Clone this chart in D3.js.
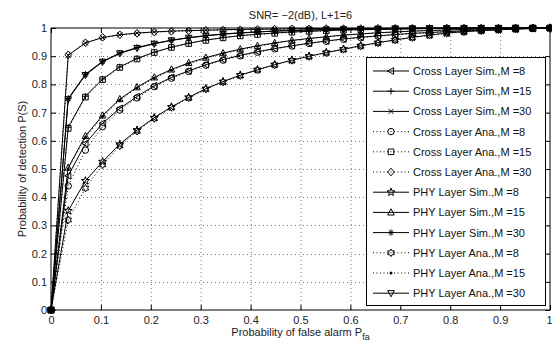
<!DOCTYPE html>
<html>
<head>
<meta charset="utf-8">
<script src="https://cdn.jsdelivr.net/npm/d3@7"></script>
<style>
  body { margin: 0; background: #fff; }
  text { font-family: "Liberation Sans", Arial, sans-serif; }
</style>
</head>
<body>
<div id="chart"></div>
<script>
"use strict";

// x values (Pfa grid)
const pfa = [0, 0.0345, 0.069, 0.1034, 0.1379, 0.1724, 0.2069, 0.2414, 0.2759, 0.3103,
  0.3448, 0.3793, 0.4138, 0.4483, 0.4828, 0.5172, 0.5517, 0.5862, 0.6207, 0.6552,
  0.6897, 0.7241, 0.7586, 0.7931, 0.8276, 0.8621, 0.8966, 0.931, 0.9655, 1];

const crossSim8 = [0, 0.476, 0.59, 0.662, 0.715, 0.757, 0.795, 0.825, 0.848, 0.87, 0.888, 0.903, 0.916, 0.927, 0.937, 0.946, 0.954, 0.961, 0.967, 0.972, 0.977, 0.981, 0.984, 0.987, 0.99, 0.992, 0.994, 0.996, 0.998, 1];
const crossSim15 = [0, 0.648, 0.758, 0.819, 0.862, 0.892, 0.914, 0.932, 0.946, 0.957, 0.966, 0.973, 0.978, 0.982, 0.986, 0.988, 0.991, 0.993, 0.994, 0.995, 0.996, 0.997, 0.998, 0.998, 0.999, 0.999, 1, 1, 1, 1];
const crossSim30 = [0, 0.903, 0.947, 0.966, 0.976, 0.982, 0.986, 0.989, 0.991, 0.992, 0.994, 0.995, 0.996, 0.996, 0.997, 0.998, 0.998, 0.998, 0.999, 0.999, 0.999, 1, 1, 1, 1, 1, 1, 1, 1, 1];
const crossAna8 = [0, 0.44, 0.567, 0.65, 0.709, 0.752, 0.792, 0.822, 0.846, 0.868, 0.886, 0.901, 0.914, 0.926, 0.936, 0.945, 0.953, 0.96, 0.966, 0.971, 0.976, 0.98, 0.984, 0.987, 0.99, 0.992, 0.994, 0.996, 0.998, 1];
const crossAna15 = [0, 0.644, 0.755, 0.817, 0.86, 0.89, 0.913, 0.931, 0.945, 0.956, 0.965, 0.972, 0.977, 0.981, 0.985, 0.988, 0.99, 0.992, 0.994, 0.995, 0.996, 0.997, 0.998, 0.998, 0.999, 0.999, 0.999, 1, 1, 1];
const crossAna30 = [0, 0.905, 0.948, 0.967, 0.976, 0.981, 0.985, 0.988, 0.99, 0.992, 0.993, 0.994, 0.995, 0.996, 0.997, 0.997, 0.998, 0.998, 0.998, 0.999, 0.999, 0.999, 0.999, 1, 1, 1, 1, 1, 1, 1];
const phySim8 = [0, 0.352, 0.458, 0.526, 0.588, 0.638, 0.682, 0.72, 0.754, 0.785, 0.81, 0.833, 0.852, 0.87, 0.886, 0.9, 0.913, 0.925, 0.937, 0.948, 0.958, 0.967, 0.975, 0.982, 0.987, 0.991, 0.994, 0.997, 0.999, 1];
const phySim15 = [0, 0.505, 0.617, 0.69, 0.748, 0.79, 0.825, 0.853, 0.876, 0.895, 0.911, 0.925, 0.937, 0.947, 0.956, 0.963, 0.969, 0.975, 0.979, 0.983, 0.986, 0.989, 0.991, 0.993, 0.995, 0.996, 0.997, 0.998, 0.999, 1];
const phySim30 = [0, 0.75, 0.836, 0.882, 0.911, 0.931, 0.945, 0.957, 0.966, 0.973, 0.979, 0.983, 0.986, 0.989, 0.991, 0.993, 0.994, 0.996, 0.997, 0.997, 0.998, 0.998, 0.999, 0.999, 1, 1, 1, 1, 1, 1];
const phyAna8 = [0, 0.319, 0.432, 0.515, 0.582, 0.634, 0.679, 0.718, 0.752, 0.783, 0.808, 0.831, 0.851, 0.869, 0.885, 0.899, 0.912, 0.924, 0.936, 0.947, 0.957, 0.966, 0.974, 0.981, 0.986, 0.99, 0.994, 0.997, 0.999, 1];
const phyAna15 = [0, 0.5, 0.612, 0.687, 0.744, 0.787, 0.822, 0.85, 0.874, 0.893, 0.909, 0.923, 0.935, 0.946, 0.955, 0.962, 0.969, 0.974, 0.979, 0.983, 0.986, 0.989, 0.991, 0.993, 0.995, 0.996, 0.997, 0.998, 0.999, 1];
const phyAna30 = [0, 0.747, 0.833, 0.88, 0.91, 0.929, 0.944, 0.956, 0.965, 0.972, 0.978, 0.982, 0.986, 0.989, 0.991, 0.993, 0.994, 0.995, 0.996, 0.997, 0.998, 0.998, 0.999, 0.999, 0.999, 1, 1, 1, 1, 1];

const seriesNames = [
  "Cross Layer Sim.,M =8", "Cross Layer Sim.,M =15", "Cross Layer Sim.,M =30",
  "Cross Layer Ana.,M =8", "Cross Layer Ana.,M =15", "Cross Layer Ana.,M =30",
  "PHY Layer Sim.,M =8", "PHY Layer Sim.,M =15", "PHY Layer Sim.,M =30",
  "PHY Layer Ana.,M =8", "PHY Layer Ana.,M =15", "PHY Layer Ana.,M =30"
];
const seriesValues = [crossSim8, crossSim15, crossSim30, crossAna8, crossAna15, crossAna30,
  phySim8, phySim15, phySim30, phyAna8, phyAna15, phyAna30];
const seriesMarkers = ["left", "plus", "xmark", "circle", "square", "diamond",
  "pentagram", "up", "asterisk", "hexagram", "point", "down"];
const seriesDotted = [false, false, false, true, true, true, false, false, false, true, true, false];

const xTicks = [0, 0.1, 0.2, 0.3, 0.4, 0.5, 0.6, 0.7, 0.8, 0.9, 1];
const yTicks = [0, 0.1, 0.2, 0.3, 0.4, 0.5, 0.6, 0.7, 0.8, 0.9, 1];

const width = 552, height = 343;
const plotLeft = 51, plotRight = 550, plotTop = 28, plotBottom = 310;

// marker shapes (Matlab-like)
function starPath(n, ro, ri) {
  const pts = [];
  for (let i = 0; i < 2 * n; i++) {
    const r = i % 2 === 0 ? ro : ri;
    const a = -Math.PI / 2 + i * Math.PI / n;
    pts.push([r * Math.cos(a), r * Math.sin(a)]);
  }
  return "M" + pts.map(p => p[0].toFixed(2) + "," + p[1].toFixed(2)).join("L") + "Z";
}
const markerPaths = {
  left: "M-3.6,0L2.6,-3.3L2.6,3.3Z",
  up: "M0,-3.6L3.3,2.6L-3.3,2.6Z",
  down: "M0,3.6L3.3,-2.6L-3.3,-2.6Z",
  square: "M-2.8,-2.8H2.8V2.8H-2.8Z",
  diamond: "M0,-3.8L3.3,0L0,3.8L-3.3,0Z",
  plus: "M-3.2,0H3.2M0,-3.2V3.2",
  xmark: "M-2.5,-2.5L2.5,2.5M-2.5,2.5L2.5,-2.5",
  asterisk: "M-3.2,0H3.2M0,-3.2V3.2M-2.3,-2.3L2.3,2.3M-2.3,2.3L2.3,-2.3",
  pentagram: starPath(5, 4.2, 1.7),
  hexagram: starPath(6, 3.8, 2.2)
};

const svg = d3.select("#chart")
  .append("svg")
  .attr("width", width)
  .attr("height", height);

const x = d3.scaleLinear().domain([0, 1]).range([plotLeft, plotRight]);
const y = d3.scaleLinear().domain([0, 1]).range([plotBottom, plotTop]);

// Grid
const grid = svg.append("g")
  .attr("stroke", "#555")
  .attr("stroke-width", 0.8)
  .attr("stroke-dasharray", "1,3");
grid.selectAll(".gx")
  .data(xTicks.slice(1, -1))
  .join("line")
  .attr("x1", d => x(d) + 0.5).attr("x2", d => x(d) + 0.5)
  .attr("y1", plotTop).attr("y2", plotBottom);
grid.selectAll(".gy")
  .data(yTicks.slice(1, -1))
  .join("line")
  .attr("x1", plotLeft).attr("x2", plotRight)
  .attr("y1", d => Math.round(y(d)) + 0.5).attr("y2", d => Math.round(y(d)) + 0.5);

// Axes, ticks pointing in
const fmt = d => String(d);
const xAxisG = svg.append("g")
  .attr("transform", `translate(0,${plotBottom})`)
  .call(d3.axisBottom(x).tickValues(xTicks).tickSize(-5).tickPadding(6).tickFormat(fmt));
svg.append("g")
  .attr("transform", `translate(0,${plotTop})`)
  .call(d3.axisTop(x).tickValues(xTicks).tickSize(-5).tickFormat(""));
svg.append("g")
  .attr("transform", `translate(${plotLeft},0)`)
  .call(d3.axisLeft(y).tickValues(yTicks).tickSize(-5).tickPadding(4).tickFormat(fmt));
svg.append("g")
  .attr("transform", `translate(${plotRight},0)`)
  .call(d3.axisRight(y).tickValues(yTicks).tickSize(-5).tickFormat(""));

svg.selectAll(".domain").remove();
svg.selectAll(".tick text")
  .attr("font-size", "11px")
  .attr("font-family", "Liberation Sans, Arial, sans-serif")
  .attr("fill", "#222");
// keep the last x label inside the page edge
xAxisG.selectAll(".tick text").filter(d => d === 1).attr("text-anchor", "end").attr("dx", 2);

svg.append("rect")
  .attr("x", plotLeft).attr("y", plotTop)
  .attr("width", plotRight - plotLeft).attr("height", plotBottom - plotTop)
  .attr("fill", "none")
  .attr("stroke", "#000")
  .attr("stroke-width", 1);

// Curves
const line = d3.line()
  .x((d, i) => x(pfa[i]))
  .y(d => y(d));

function drawMarker(g, kind, cx, cy) {
  if (kind === "circle") {
    g.append("circle").attr("cx", cx).attr("cy", cy).attr("r", 3.2)
      .attr("fill", "none").attr("stroke", "#000");
  } else if (kind === "point") {
    g.append("circle").attr("cx", cx).attr("cy", cy).attr("r", 1.5).attr("fill", "#000");
  } else {
    g.append("path").attr("d", markerPaths[kind])
      .attr("transform", `translate(${cx},${cy})`)
      .attr("fill", "none").attr("stroke", "#000");
  }
}

const curves = svg.append("g");
seriesValues.forEach((vals, s) => {
  const g = curves.append("g");
  g.append("path")
    .datum(vals)
    .attr("d", line)
    .attr("fill", "none")
    .attr("stroke", "#000")
    .attr("stroke-width", 1)
    .attr("stroke-dasharray", seriesDotted[s] ? "1,2.5" : null);
  vals.forEach((v, i) => drawMarker(g, seriesMarkers[s], x(pfa[i]), y(v)));
});

// Legend
const legend = svg.append("g");
legend.append("rect")
  .attr("x", 366.5).attr("y", 57.5)
  .attr("width", 179).attr("height", 248)
  .attr("fill", "#fff")
  .attr("stroke", "#000");
seriesNames.forEach((name, s) => {
  const ry = 71 + s * 20.2;
  const g = legend.append("g");
  g.append("line")
    .attr("x1", 373).attr("x2", 409)
    .attr("y1", ry).attr("y2", ry)
    .attr("stroke", "#000")
    .attr("stroke-dasharray", seriesDotted[s] ? "1,2.5" : null);
  drawMarker(g, seriesMarkers[s], 391, ry);
  g.append("text")
    .attr("x", 413).attr("y", ry + 4)
    .attr("font-size", "11px")
    .attr("fill", "#111")
    .text(name);
});

// Title and axis labels
svg.append("text")
  .attr("x", (plotLeft + plotRight) / 2).attr("y", 19)
  .attr("text-anchor", "middle")
  .attr("font-size", "11px")
  .attr("fill", "#222")
  .text("SNR= \u22122(dB), L+1=6");

svg.append("text")
  .attr("transform", `translate(26,${(plotTop + plotBottom) / 2}) rotate(-90)`)
  .attr("text-anchor", "middle")
  .attr("font-size", "11px")
  .attr("fill", "#222")
  .text("Probability of detection P(S)");

const xl = svg.append("text")
  .attr("x", (plotLeft + plotRight) / 2).attr("y", 336)
  .attr("text-anchor", "middle")
  .attr("font-size", "11px")
  .attr("fill", "#222");
xl.append("tspan").text("Probability of false alarm P");
xl.append("tspan").attr("font-size", "9px").attr("dy", 4).text("fa");
</script>
</body>
</html>
